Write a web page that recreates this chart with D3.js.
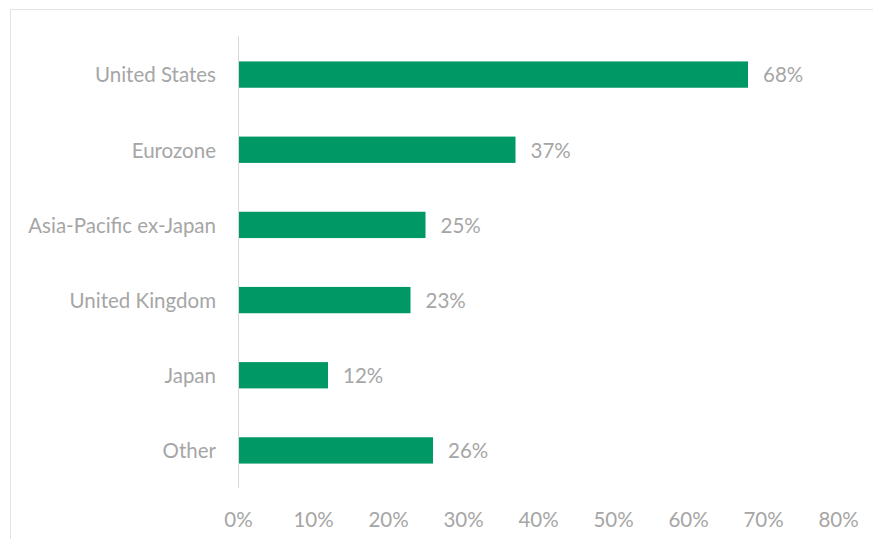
<!DOCTYPE html>
<html>
<head>
<meta charset="utf-8">
<script src="https://cdn.jsdelivr.net/npm/d3@7"></script>
<style>
  body { margin: 0; background: #fff; }
  svg { font-family: Lato, "Open Sans", sans-serif; }
</style>
</head>
<body>
<svg id="chart"></svg>
<script>
const regions = ['United States', 'Eurozone', 'Asia-Pacific ex-Japan', 'United Kingdom', 'Japan', 'Other'];
const shares = [68, 37, 25, 23, 12, 26];
const xTicks = [0, 10, 20, 30, 40, 50, 60, 70, 80];

const data = regions.map((r, i) => ({ region: r, value: shares[i] }));

const svgWidth = 873;
const svgHeight = 539;
const margin = { top: 37, right: 35, bottom: 51, left: 238 };
const width = svgWidth - margin.left - margin.right;
const height = svgHeight - margin.top - margin.bottom;
const fontSize = '20.5px';

const root = d3.select('#chart')
    .attr('width', svgWidth)
    .attr('height', svgHeight);

// outer frame (cut off at right and bottom)
root.append('rect')
    .attr('x', 10.5)
    .attr('y', 9.5)
    .attr('width', svgWidth + 20)
    .attr('height', svgHeight + 20)
    .attr('fill', 'none')
    .attr('stroke', '#e3e3e3');

const svg = root.append('g')
    .attr('transform', `translate(${margin.left}, ${margin.top})`);

const xScale = d3.scaleLinear()
    .domain([0, 80])
    .range([0, 600]);

const yScale = d3.scaleBand()
    .domain(regions)
    .range([0, height])
    .paddingInner(0.65)
    .paddingOuter(0.325);

// bars
svg.selectAll('.bar')
    .data(data)
    .enter()
    .append('rect')
    .attr('class', 'bar')
    .attr('x', 0)
    .attr('y', d => yScale(d.region))
    .attr('width', d => xScale(d.value))
    .attr('height', yScale.bandwidth())
    .attr('fill', '#009865');

// value labels
svg.selectAll('.val')
    .data(data)
    .enter()
    .append('text')
    .attr('class', 'val')
    .attr('x', d => xScale(d.value) + 15)
    .attr('y', d => yScale(d.region) + yScale.bandwidth() / 2)
    .attr('dy', '0.38em')
    .attr('fill', '#a6a6a6')
    .style('font-size', fontSize)
    .text(d => d.value + '%');

// y axis
const yAxis = svg.append('g')
    .attr('class', 'y-axis')
    .call(d3.axisLeft(yScale).tickSize(0).tickPadding(22));
yAxis.select('.domain').attr('stroke', '#d9d9d9').attr('d', `M0.5,-1V${height}`);
yAxis.selectAll('text')
    .attr('fill', '#a6a6a6')
    .attr('dy', '0.38em')
    .style('font-size', fontSize)
    .style('font-family', 'Lato, "Open Sans", sans-serif');

// x axis
const xAxis = svg.append('g')
    .attr('class', 'x-axis')
    .attr('transform', `translate(0, ${height})`)
    .call(d3.axisBottom(xScale).tickValues(xTicks).tickSize(0).tickPadding(24).tickFormat(d => d + '%'));
xAxis.select('.domain').remove();
xAxis.selectAll('text')
    .attr('fill', '#a6a6a6')
    .style('font-size', fontSize)
    .style('font-family', 'Lato, "Open Sans", sans-serif');
</script>
</body>
</html>
